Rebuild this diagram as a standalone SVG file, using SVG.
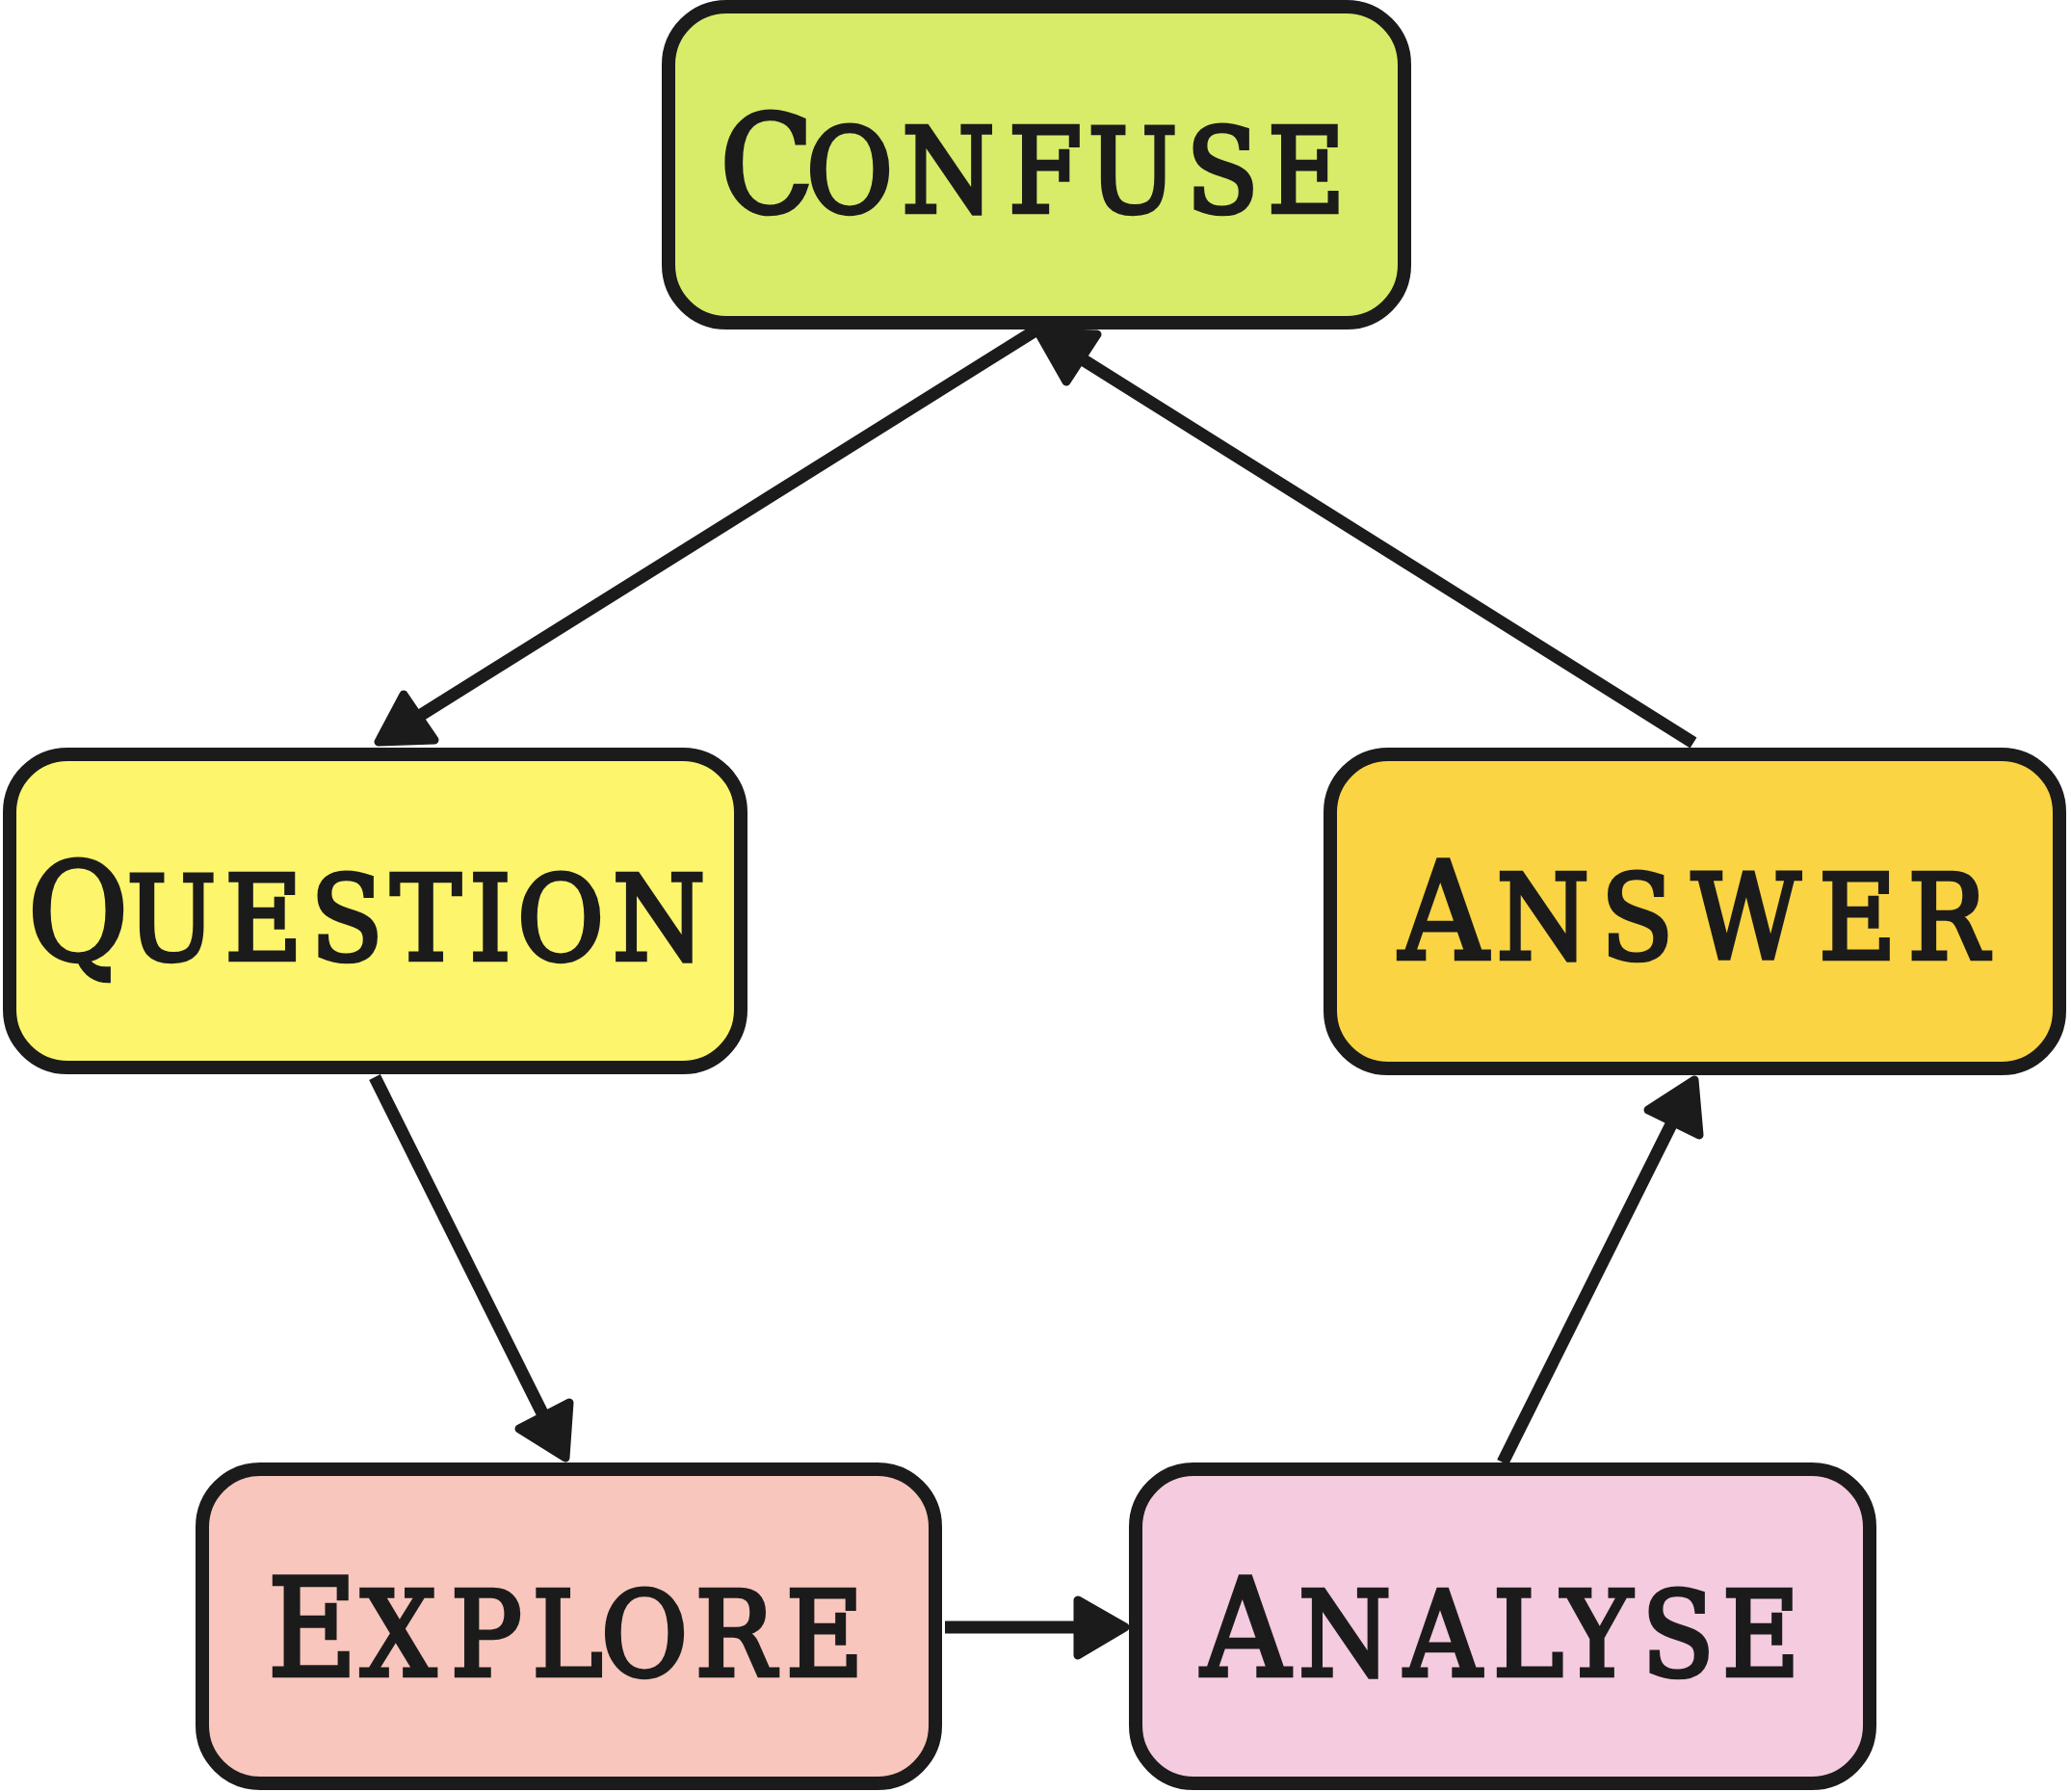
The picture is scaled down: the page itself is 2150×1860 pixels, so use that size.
<svg xmlns="http://www.w3.org/2000/svg" width="2150" height="1860" viewBox="0 0 2150 1860">
<style>
.box{stroke:#1b1b1b;stroke-width:14;stroke-linejoin:round}
.lbl{font-family:"DejaVu Serif Condensed","DejaVu Serif",serif;font-weight:normal;font-size:122px;fill:#1b1b1b;stroke:#1b1b1b;stroke-width:4.5;stroke-linejoin:miter;text-anchor:middle}
.big{font-size:141px}
.conn line{stroke:#1b1b1b;stroke-width:13;stroke-linecap:butt}
.conn polygon{fill:#1b1b1b;stroke:#1b1b1b;stroke-width:9;stroke-linejoin:round}
</style>
<rect width="2150" height="1860" fill="#ffffff"/>
<g id="connectors" class="conn">
  <line x1="1075" y1="343" x2="410" y2="759"/>
  <polygon points="393,770 419,721 451,768"/>
  <line x1="1758" y1="771" x2="1095" y2="355"/>
  <polygon points="1078,345 1139,347 1107,396"/>
  <line x1="389" y1="1118" x2="578" y2="1497"/>
  <polygon points="587,1513 591,1456 539,1483"/>
  <line x1="981" y1="1689" x2="1155" y2="1689"/>
  <polygon points="1168,1689 1119,1661 1119,1718"/>
  <line x1="1560" y1="1518" x2="1750" y2="1137"/>
  <polygon points="1759,1121 1711,1152 1764,1178"/>
</g>
<g id="confuse">
  <rect class="box" x="694" y="7" width="764" height="328" rx="60" fill="#d8ec69"/>
  <text class="lbl" y="220"><tspan class="big" x="796">C</tspan><tspan x="882 984.6 1085 1176 1269 1356">ONFUSE</tspan></text>
</g>
<g id="question">
  <rect class="box" x="10" y="783" width="759" height="325" rx="60" fill="#fdf56c"/>
  <text class="lbl" y="996"><tspan class="big" x="81">Q</tspan><tspan x="178 273.6 360 442 509 582 684">UESTION</tspan></text>
</g>
<g id="answer">
  <rect class="box" x="1381" y="783" width="757" height="326" rx="60" fill="#fad443"/>
  <text class="lbl" y="995"><tspan class="big" x="1498.6">A</tspan><tspan x="1601.7 1699.6 1812.6 1928.3 2022">NSWER</tspan></text>
</g>
<g id="explore">
  <rect class="box" x="210" y="1525" width="761" height="326" rx="60" fill="#f8c6bc"/>
  <text class="lbl" y="1739"><tspan class="big" x="324.3">E</tspan><tspan x="413.7 505 589 669 763 856">XPLORE</tspan></text>
</g>
<g id="analyse">
  <rect class="box" x="1179" y="1525" width="762" height="326" rx="60" fill="#f5cbdf"/>
  <text class="lbl" y="1739"><tspan class="big" x="1293">A</tspan><tspan x="1396 1498 1586.5 1657.6 1742 1828">NALYSE</tspan></text>
</g>
</svg>
